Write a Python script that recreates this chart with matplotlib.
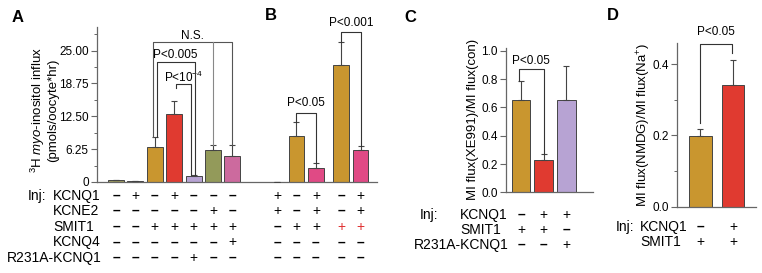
import numpy as np
import matplotlib
matplotlib.use("Agg")
import matplotlib.pyplot as plt
from matplotlib.transforms import blended_transform_factory

plt.rcParams['font.family'] = ['Liberation Sans', 'DejaVu Sans']
plt.rcParams['mathtext.fontset'] = 'custom'
plt.rcParams['mathtext.rm'] = 'Liberation Sans'
plt.rcParams['mathtext.it'] = 'Liberation Sans:italic'

# ---- data ----
# panel A + B (shared axis)
ab_x = [0, 1, 2, 3, 4, 5, 6, 8.3, 9.3, 10.3, 11.6, 12.6]
ab_vals = [0.3, 0.15, 6.6, 12.9, 1.1, 6.0, 5.0, 0.08, 8.8, 2.7, 22.3, 6.0]
ab_err = [0, 0, 2.0, 2.6, 0.2, 1.05, 2.05, 0, 2.7, 0.85, 4.4, 0.9]
ab_colors = ['#9C9A5E', '#8A2A3A', '#C9962F', '#E03A30', '#B7A3D3', '#939A5A', '#CC6A9E',
             '#222222', '#C9962F', '#E04A85', '#C9962F', '#E04A85']
ab_yticks = [0, 6.25, 12.5, 18.75, 25.0]
ab_yticklabels = ['0', '6.25', '12.50', '18.75', '25.00']
a_rows = ['KCNQ1', 'KCNE2', 'SMIT1', 'KCNQ4', 'R231A-KCNQ1']
a_signs = [['-', '+', '-', '+', '-', '-', '-'],
           ['-', '-', '-', '-', '-', '+', '-'],
           ['-', '-', '+', '+', '+', '+', '+'],
           ['-', '-', '-', '-', '-', '-', '+'],
           ['-', '-', '-', '-', '+', '-', '-']]
b_signs = [['+', '-', '+', '-', '+'],
           ['+', '-', '+', '-', '+'],
           ['-', '+', '+', 'r+', 'r+'],
           ['-', '-', '-', '-', '-'],
           ['-', '-', '-', '-', '-']]

# panel C
c_vals = [0.652, 0.226, 0.65]
c_err = [0.138, 0.044, 0.245]
c_colors = ['#C9962F', '#E03A30', '#B7A3D3']
c_rows = ['KCNQ1', 'SMIT1', 'R231A-KCNQ1']
c_signs = [['-', '+', '+'], ['+', '+', '-'], ['-', '-', '+']]

# panel D
d_vals = [0.198, 0.341]
d_err = [0.02, 0.07]
d_colors = ['#C9962F', '#E03A30']
d_rows = ['KCNQ1', 'SMIT1']
d_signs = [['-', '+'], ['+', '+']]

W, H = 762, 273
fig = plt.figure(figsize=(W / 100, H / 100), dpi=100)


def fx(px):
    return px / W


def fy(py):
    return 1 - py / H


def style_ax(ax):
    for s in ['top', 'right']:
        ax.spines[s].set_visible(False)
    for s in ['left', 'bottom']:
        ax.spines[s].set_color('#666666')
        ax.spines[s].set_linewidth(0.9)
    ax.tick_params(axis='y', direction='out', length=4, width=0.8, color='#666666',
                   labelsize=8.5, pad=2)
    ax.tick_params(axis='y', which='minor', direction='out', length=2.5, width=0.7, color='#666666')
    ax.tick_params(axis='x', bottom=False, labelbottom=False)


def bars(ax, x, vals, err, colors, width):
    ax.bar(x, vals, width=width, color=colors, edgecolor='#444444', linewidth=0.7, zorder=2)
    ax.errorbar(x, vals, yerr=[np.zeros(len(err)), err], fmt='none', ecolor='#444444',
                elinewidth=0.8, capsize=2.2, capthick=0.8, zorder=3)


def bracket(ax, x1, x2, y, y1, y2, text, ty, color='#333333'):
    ax.plot([x1, x1, x2, x2], [y1, y, y, y2], color=color, lw=0.8, clip_on=False, zorder=4)
    if text:
        ax.text((x1 + x2) / 2, ty, text, ha='center', va='center', fontsize=8.5, clip_on=False)


def sign_text(ax, x, py, s):
    tr = blended_transform_factory(ax.transData, fig.transFigure)
    color = 'black'
    if s.startswith('r'):
        color = '#E03030'
        s = s[1:]
    if s == '-':
        ax.text(x, fy(py), '\u2013', transform=tr, ha='center', va='center',
                fontsize=10, fontweight='bold', color=color)
    else:
        ax.text(x, fy(py), '+', transform=tr, ha='center', va='center',
                fontsize=10, color=color)


# ---- panel A+B ----
ax1 = fig.add_axes([fx(97), fy(182), fx(280), (182 - 27) / H])
style_ax(ax1)
bars(ax1, ab_x, ab_vals, ab_err, ab_colors, 0.82)
ax1.set_ylim(0, 29.5)
ax1.set_xlim(-0.98, 13.45)
ax1.set_yticks(ab_yticks)
ax1.set_yticklabels(ab_yticklabels)
ax1.set_yticks(np.arange(3.125, 29.5, 6.25), minor=True)

bracket(ax1, 1.9, 6.0, 26.6, 8.6, 7.05, 'N.S.', 27.8, color='#555555')
ax1.plot([5.0, 5.0], [26.6, 7.05], color='#888888', lw=0.8, zorder=4)
bracket(ax1, 2.1, 4.05, 22.9, 8.6, 1.3, 'P<0.005', 24.1)
bracket(ax1, 3.1, 3.85, 18.7, 17.9, 1.3, 'P<10$^{-4}$', 19.9)
bracket(ax1, 9.3, 10.3, 13.2, 11.5, 3.6, 'P<0.05', 15.0)
bracket(ax1, 11.6, 12.6, 28.6, 26.7, 6.9, 'P<0.001', 30.3)

fig.text(fx(44), fy(110), '$^3$H $\\it{myo}$-inositol influx\n(pmols/oocyte*hr)',
         rotation=90, ha='center', va='center', fontsize=9.5, linespacing=1.0)

a_row_y = [195.7, 211, 226.7, 242.3, 257.7]
fig.text(fx(28), fy(a_row_y[0]), 'Inj:', ha='left', va='center', fontsize=10)
for r, lab in enumerate(a_rows):
    left = 7 if lab.startswith('R231A') else 53
    fig.text(fx(left), fy(a_row_y[r]), lab, ha='left', va='center', fontsize=10)
    for i, s in enumerate(a_signs[r]):
        sign_text(ax1, ab_x[i], a_row_y[r], s)
    for i, s in enumerate(b_signs[r]):
        sign_text(ax1, ab_x[7 + i], a_row_y[r], s)

# ---- panel C ----
ax3 = fig.add_axes([fx(506), fy(192.3), fx(86.7), (192.3 - 48) / H])
style_ax(ax3)
c_x = np.arange(len(c_vals))
bars(ax3, c_x, c_vals, c_err, c_colors, 0.81)
ax3.set_ylim(0, 1.02)
ax3.set_xlim(-0.66, 3.16)
ax3.set_yticks([0.0, 0.2, 0.4, 0.6, 0.8, 1.0])
ax3.set_yticklabels(['0.0', '0.2', '0.4', '0.6', '0.8', '1.0'])
bracket(ax3, -0.08, 1.0, 0.87, 0.79, 0.27, 'P<0.05', 0.93)
fig.text(fx(473), fy(119.5), 'MI flux(XE991)/MI flux(con)', rotation=90,
         ha='center', va='center', fontsize=9.5)

c_row_y = [215, 230, 245]
fig.text(fx(420), fy(c_row_y[0]), 'Inj:', ha='left', va='center', fontsize=10)
for r, lab in enumerate(c_rows):
    if lab.startswith('R231A'):
        fig.text(fx(509), fy(c_row_y[r]), lab, ha='right', va='center', fontsize=10)
    else:
        fig.text(fx(460), fy(c_row_y[r]), lab, ha='left', va='center', fontsize=10)
    for i, s in enumerate(c_signs[r]):
        sign_text(ax3, c_x[i], c_row_y[r], s)

# ---- panel D ----
ax4 = fig.add_axes([fx(677), fy(206.7), fx(79), (206.7 - 43) / H])
style_ax(ax4)
d_x = np.arange(len(d_vals))
bars(ax4, d_x, d_vals, d_err, d_colors, 0.69)
ax4.set_ylim(0, 0.459)
ax4.set_xlim(-0.72, 1.71)
ax4.set_yticks([0.0, 0.2, 0.4])
ax4.set_yticklabels(['0.0', '0.2', '0.4'])
ax4.set_yticks([0.1, 0.3], minor=True)
bracket(ax4, 0.0, 0.98, 0.455, 0.235, 0.43, 'P<0.05', 0.49)
fig.text(fx(644), fy(125), 'MI flux(NMDG)/MI flux(Na$^{+}$)', rotation=90,
         ha='center', va='center', fontsize=9.5)

d_row_y = [226.7, 241.7]
fig.text(fx(616), fy(d_row_y[0]), 'Inj:', ha='left', va='center', fontsize=10)
for r, lab in enumerate(d_rows):
    fig.text(fx(640), fy(d_row_y[r]), lab, ha='left', va='center', fontsize=10)
    for i, s in enumerate(d_signs[r]):
        sign_text(ax4, d_x[i], d_row_y[r], s)

# panel letters
for lab, px, py in [('A', 12, 18), ('B', 265, 16), ('C', 404, 18), ('D', 607, 16)]:
    fig.text(fx(px), fy(py), lab, ha='left', va='center', fontsize=12, fontweight='bold')

fig.savefig('out.png', dpi=100)
